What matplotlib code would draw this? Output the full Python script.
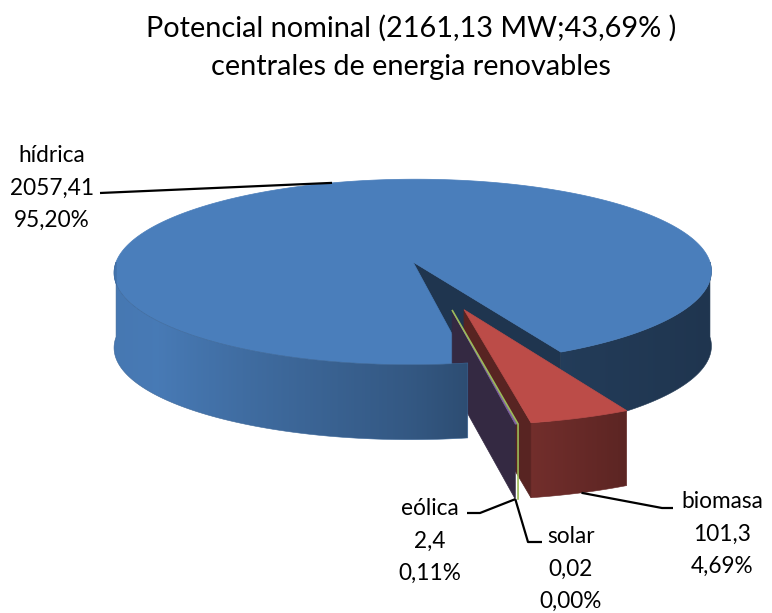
import numpy as np
import matplotlib.pyplot as plt
from matplotlib.patches import Polygon
from matplotlib.colors import to_rgb

plt.rcParams['font.family'] = ['Lato', 'DejaVu Sans']

# datos: potencia instalada por fuente (MW)
fuentes = ['hídrica', 'biomasa', 'solar', 'eólica']
potencia = [2057.41, 101.3, 0.02, 2.4]
colores = ['#4A7EBB', '#BC4C48', '#9BBB59', '#8064A2']
titulo = ['Potencial nominal (2161,13 MW;43,69% )',
          'centrales de energia renovables']

# geometría del pastel 3D, en píxeles de la figura
CX, CY = 437.7, 285.2
RX, RY = 305.0, 96.7
PERSP = 0.11
ALTO = 75.0
SEPARA = 0.26
ANG0 = 170.0


def proy(u, v, abajo=False):
    f = 1.0 / (1.0 - PERSP * v)
    return CX + RX * u * f, CY + RY * v * f + (ALTO if abajo else 0.0)


def borde(t):
    # ángulo en grados, horario desde las 12; v positivo hacia el observador
    r = np.radians(t)
    return np.sin(r), -np.cos(r)


def sombra(c, k):
    return tuple(np.clip(np.array(to_rgb(c)) * k, 0, 1))


def luz_pared(nx):
    return np.interp(nx, [-1, -0.8, -0.5, 0, 0.2, 0.5, 1],
                     [0.95, 0.97, 0.86, 0.7, 0.6, 0.47, 0.42])


def punto(off, t, abajo=False):
    u, v = borde(t)
    return proy(off[0] + u, off[1] + v, abajo)


def tapa(ax, off, t0, t1, color):
    ts = np.linspace(t0, t1, max(2, int((t1 - t0) * 2) + 2))
    pts = [proy(*off)] + [punto(off, t) for t in ts]
    ax.add_patch(Polygon(pts, closed=True, fc=color, ec=color, lw=0.5))


def pared(ax, off, t0, t1, color):
    # pared curva como un solo polígono relleno con un degradado horizontal
    ts = np.linspace(t0, t1, max(2, int((t1 - t0) * 2) + 2))
    arriba = [punto(off, t) for t in ts]
    abajo = [punto(off, t, True) for t in ts[::-1]]
    contorno = Polygon(arriba + abajo, closed=True, fc='none', ec='none')
    ax.add_patch(contorno)
    xs = np.array([p[0] for p in arriba])
    luz = luz_pared(np.sin(np.radians(ts)))
    orden = np.argsort(xs)
    x0, x1 = xs.min(), xs.max()
    cols = np.linspace(x0, x1, 400)
    k = np.interp(cols, xs[orden], luz[orden])
    img = np.array([[sombra(color, kk) for kk in k]])
    ys = [p[1] for p in arriba + abajo]
    im = ax.imshow(img, extent=(x0, x1, max(ys), min(ys)), aspect='auto',
                   interpolation='bilinear', zorder=contorno.get_zorder())
    im.set_clip_path(contorno)
    borde_c = Polygon(arriba + abajo, closed=True, fc='none',
                      ec=sombra(color, k.mean()), lw=0.4)
    ax.add_patch(borde_c)


def cara(ax, off, t, color):
    pts = [proy(*off), punto(off, t), punto(off, t, True),
           proy(off[0], off[1], True)]
    ax.add_patch(Polygon(pts, closed=True, fc=color, ec=color, lw=0.5))


fig = plt.figure(figsize=(7.72, 6.13), dpi=100)
ax = fig.add_axes([0, 0, 1, 1])
ax.axis('off')

total = sum(potencia)
angulos = np.cumsum([0] + [p / total * 360 for p in potencia]) + ANG0
rebanadas = []
for i in range(len(fuentes)):
    t0, t1 = angulos[i], angulos[i + 1]
    off = np.array(borde(0.5 * (t0 + t1))) * SEPARA
    rebanadas.append((off, t0, t1))

# hídrica: cara del corte, pared derecha y tapa
off, t0, t1 = rebanadas[0]
cara(ax, off, t1, sombra(colores[0], 0.42))
pared(ax, off, 450, t1, colores[0])
tapa(ax, off, t0, t1, colores[0])

# biomasa
off, t0, t1 = rebanadas[1]
cara(ax, off, t1, sombra(colores[1], 0.47))
pared(ax, off, t0, t1, colores[1])
tapa(ax, off, t0, t1, colores[1])

# eólica
off, t0, t1 = rebanadas[3]
cara(ax, off, t1, sombra(colores[3], 0.41))
tapa(ax, off, t0, t1, colores[3])

# solar: solo se ve el contorno
off, t0, t1 = rebanadas[2]
xs, ys = zip(proy(*off), punto(off, t0), punto(off, t0, True))
ax.plot(xs, ys, color=colores[2], lw=1.2, solid_joinstyle='miter')

# pared frontal izquierda de hídrica
off, t0, t1 = rebanadas[0]
pared(ax, off, t0, 270, colores[0])

# título
for i, linea in enumerate(titulo):
    ax.text(411, 37 + i * 37.5, linea, ha='center', va='baseline', fontsize=20.8)

# etiquetas con nombre, valor y porcentaje
pos_txt = [(52, 162), (722, 508), (571, 543), (430, 515)]
for i, nombre in enumerate(fuentes):
    lineas = [nombre, str(potencia[i]).replace('.', ','),
              f'{potencia[i] / total * 100:.2f}%'.replace('.', ',')]
    x0, y0 = pos_txt[i]
    for j, s in enumerate(lineas):
        ax.text(x0, y0 + j * 32.5, s, ha='center', va='baseline', fontsize=16.3)

# líneas guía
p_hid = punto(rebanadas[0][0], 342)
p_bio = punto(rebanadas[1][0], 161, True)
p_eol = punto(rebanadas[3][0], rebanadas[3][2], True)
guias = [
    [(100, 193), p_hid],
    [p_bio, (662, 508), (673, 508)],
    [(467, 513), (480, 513), p_eol],
    [p_eol, (528, 542), (542, 542)],
]
for g in guias:
    xs, ys = zip(*g)
    ax.plot(xs, ys, color='black', lw=1.6, solid_capstyle='butt')

ax.set_xlim(0, 772)
ax.set_ylim(613, 0)
fig.savefig('out.png', dpi=100)
